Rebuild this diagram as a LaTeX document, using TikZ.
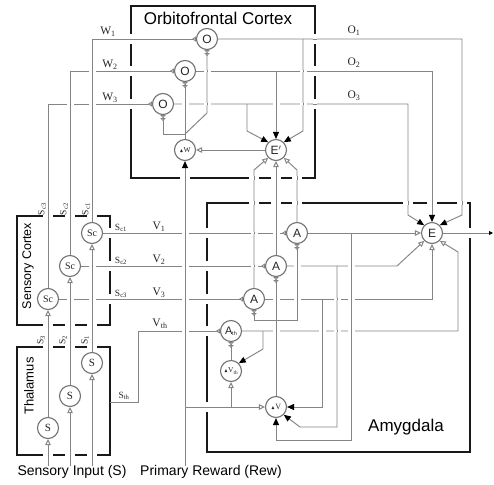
\documentclass[tikz,border=0pt]{standalone}
\usepackage{fontspec}
\usepackage{amssymb}
\setmainfont{Liberation Serif}
\setsansfont{Liberation Sans}
\usetikzlibrary{arrows.meta}
\tikzset{
  ln/.style={draw=black!48, line width=0.95pt},
  boxed/.style={draw=black!90, line width=2pt},
  nrn/.style={circle, draw=black!55, line width=1.1pt, fill=white, minimum size=21pt, inner sep=0pt, text=black!85},
  sfn/.style={nrn, font=\sffamily\fontsize{12}{12}\selectfont},
  rmn/.style={nrn, font=\fontsize{10}{10}\selectfont},
  rmnb/.style={nrn, font=\fontsize{11}{11}\selectfont},
  lab/.style={font=\fontsize{11.5}{11.5}\selectfont, text=black!85, inner sep=0pt},
  slab/.style={font=\fontsize{9.5}{9.5}\selectfont, text=black!85, inner sep=0pt},
  ttl/.style={font=\sffamily\fontsize{17}{17}\selectfont, text=black, inner sep=0pt},
  opn/.style={-{Triangle[open,length=6pt,width=5.5pt]}},
  blk/.style={-{Triangle[length=7pt,width=6pt,color=black,fill=black]}},
  rev/.style={-{Triangle[open,reversed,length=4pt,width=5pt]}},
  drev/.style={-{Triangle[open,reversed,length=3pt,width=5.5pt]Triangle[open,reversed,length=3pt,width=5.5pt]}},
}
\newcommand\hop[2]{\fill[white] ({#1-3.5},{#2-1.2}) rectangle ({#1+3.5},{#2+1.2}); \draw[ln] (#1,{#2-1.3}) -- (#1,{#2+1.3});}
\newcommand\bgv[2]{\fill[white] ({#1-1.6},{#2-5}) rectangle ({#1+1.6},{#2+5}); \draw[ln] ({#1-1.7},#2) -- ({#1+1.7},#2);}
\newcommand\bgh[2]{\fill[white] ({#1-5},{#2-1.6}) rectangle ({#1+5},{#2+1.6}); \draw[ln] (#1,{#2-1.7}) -- (#1,{#2+1.7});}
\newcommand\tri{{\fontsize{5}{5}\selectfont$\blacktriangle$}}
\begin{document}
\begin{tikzpicture}[x=1pt,y=-1pt]
\useasboundingbox[fill=white] (0,0) rectangle (494,484);
% boxes
\draw[boxed] (131,6) rectangle (315,178);
\draw[boxed] (17,216) rectangle (110,325);
\draw[boxed] (17,347) rectangle (110,455);
\draw[boxed] (207,203) rectangle (470,452);
% titles
\node[ttl] (tofc) at (218,18) {Orbitofrontal Cortex};
\node[ttl,rotate=90,font=\sffamily\fontsize{12.5}{12.5}\selectfont] (tsc) at (28,266) {Sensory Cortex};
\node[ttl,rotate=90,font=\sffamily\fontsize{13}{13}\selectfont] (tth) at (29,386) {Thalamus};
\node[ttl] (tamy) at (406,427) {Amygdala};
\node[ttl,font=\sffamily\fontsize{14}{14}\selectfont] (tin) at (72,472) {Sensory Input (S)};
\node[ttl,font=\sffamily\fontsize{14}{14}\selectfont] (trew) at (211,472) {Primary Reward (Rew)};
% nodes
\node[sfn] (O1) at (207,39) {O};
\node[sfn] (O2) at (185,71) {O};
\node[sfn] (O3) at (163,104) {O};
\node[nrn] (dW) at (185,150) {\tri{\fontsize{7.5}{7.5}\selectfont W}};
\node[sfn] (Ep) at (276,150) {E$'$};
\node[sfn] (E) at (432,233) {E};
\node[sfn] (A1) at (297,233) {A};
\node[sfn] (A2) at (276,266) {A};
\node[sfn] (A3) at (254,299) {A};
\node[sfn,font=\sffamily\fontsize{11}{11}\selectfont] (Ath) at (231,331) {A\kern-0.3pt\raisebox{-1.5pt}{\fontsize{5.5}{5.5}\selectfont th}};
\node[nrn] (dVth) at (231,371) {\tri{\fontsize{7.5}{7.5}\selectfont V\textsubscript{th}}};
\node[nrn] (dV) at (276,407) {\tri{\fontsize{8}{8}\selectfont V}};
\node[rmn] (Sc1) at (92,233) {Sc};
\node[rmn] (Sc2) at (70,266) {Sc};
\node[rmn] (Sc3) at (48,299) {Sc};
\node[rmnb] (S1) at (92,363) {S};
\node[rmnb] (S2) at (70,396) {S};
\node[rmnb] (S3) at (48,428) {S};
% free ends
\coordinate (in1) at (92,466);
\coordinate (in2) at (70,466);
\coordinate (in3) at (48,466);
\coordinate (rew) at (185,466);
\coordinate (thout) at (110,402);
\coordinate (eout) at (493,233);
% sensory inputs
\draw[ln,opn] (in1) -- (S1.south);
\draw[ln,opn] (in2) -- (S2.south);
\draw[ln,opn] (in3) -- (S3.south);
\draw[ln,opn] (S1.north) -- (Sc1.south);
\draw[ln,opn] (S2.north) -- (Sc2.south);
\draw[ln,opn] (S3.north) -- (Sc3.south);
% W lines
\draw[ln,rev] (Sc1.north) |- (O1.west);
\draw[ln,rev] (Sc2.north) |- (O2.west);
\draw[ln,rev] (Sc3.north) |- (O3.west);
% V lines
\draw[ln,rev] (Sc1.east) -- (A1.west);
\draw[ln,rev] (Sc2.east) -- (A2.west);
\draw[ln,rev] (Sc3.east) -- (A3.west);
\draw[ln,rev] (thout) -- (138,402) |- (Ath.west);
% O outputs
\draw[ln,blk] (O1.east) -- (462,39) -- (462,215) -- (E.north east);
\draw[ln,blk] (O2.east) -| (E.north);
\draw[ln,blk] (O3.east) -- (408,104) -- (408,215) -- (E.north west);
\draw[ln,blk] (303,39) -- (303,131) -- (Ep.north east);
\draw[ln,blk] (276,71) -- (Ep.north);
\draw[ln,blk] (247,104) -- (247,131) -- (Ep.north west);
% E' and dW
\draw[ln,opn] (Ep.west) -- (dW.east);
\draw[ln,blk] (rew) -- (dW.south);
\draw[ln,drev] (dW.north) -- (O2.south);
\draw[ln,drev] (185,134) -- (207,113) -- (O1.south);
\draw[ln,drev] (185,134) -- (163,134) -- (O3.south);
% reward branches
\draw[ln,opn] (185,407) -- (dV.west);
\draw[ln,opn] (231,407) -- (dVth.south);
% A up to E'
\draw[ln,opn] (A1.north) -- (297,170) -- (Ep.south east);
\draw[ln,opn] (A2.north) -- (Ep.south);
\draw[ln,opn] (A3.north) -- (254,170) -- (Ep.south west);
% A to E
\draw[ln,opn] (A1.east) -- (E.west);
\draw[ln,opn] (A2.east) -- (397,266) -- (E.south west);
\draw[ln,opn] (A3.east) -| (E.south);
\draw[ln,opn] (Ath.east) -- (458,331) -- (458,252) -- (E.south east);
\draw[ln,-{Triangle[length=4pt,width=4pt,color=black,fill=black]}] (E.east) -- (eout);
% A to dV
\draw[ln,blk] (351,233) -- (351,440) -| (dV.south);
\draw[ln,blk] (337,266) -- (337,427) -- (300,427) -- (dV.south east);
\draw[ln,blk] (322,299) |- (dV.east);
% dV to A
\draw[ln,drev] (dV.north) -- (A2.south);
\draw[ln,drev] (276,320) -- (254,320) -- (A3.south);
\draw[ln,drev] (276,320) -- (297,320) -- (A1.south);
% Ath
\draw[ln,drev] (dVth.north) -- (Ath.south);
\draw[ln,blk] (263,331) -- (263,349) -- (dVth.north east);
% crossings
\hop{92}{71} \hop{70}{104} \hop{92}{104}
\hop{207}{71} \hop{303}{71}
\hop{185}{104} \hop{207}{104} \hop{276}{104} \hop{303}{104}
\hop{185}{233} \hop{254}{233} \hop{276}{233}
\hop{92}{266} \hop{185}{266} \hop{254}{266}
\hop{70}{299} \hop{92}{299} \hop{185}{299}
\hop{185}{331}
\hop{297}{266} \hop{351}{266}
\hop{276}{299} \hop{297}{299} \hop{337}{299} \hop{351}{299}
\hop{276}{331} \hop{322}{331} \hop{337}{331} \hop{351}{331}
% border gaps
\bgv{131}{39} \bgv{131}{71} \bgv{131}{104}
\bgv{315}{39} \bgv{315}{71} \bgv{315}{104}
\bgv{110}{233} \bgv{110}{266} \bgv{110}{299}
\bgv{207}{233} \bgv{207}{266} \bgv{207}{299} \bgv{207}{331} \bgv{207}{407}
\bgv{470}{233}
\bgh{185}{178} \bgh{254}{178} \bgh{276}{178} \bgh{297}{178}
\bgh{48}{216} \bgh{70}{216} \bgh{92}{216}
\bgh{48}{325} \bgh{70}{325} \bgh{92}{325}
\bgh{48}{347} \bgh{70}{347} \bgh{92}{347}
\bgh{48}{455} \bgh{70}{455} \bgh{92}{455}
\bgh{254}{203} \bgh{276}{203} \bgh{297}{203} \bgh{408}{203} \bgh{432}{203} \bgh{462}{203}
% labels
\node[lab] (lw1) at (108,32) {W\textsubscript{1}};
\node[lab] (lw2) at (110,65) {W\textsubscript{2}};
\node[lab] (lw3) at (110,98) {W\textsubscript{3}};
\node[lab] (lo1) at (354,31) {O\textsubscript{1}};
\node[lab] (lo2) at (354,63) {O\textsubscript{2}};
\node[lab] (lo3) at (354,96) {O\textsubscript{3}};
\node[slab] (ls1) at (121,228) {S\textsubscript{c1}};
\node[slab] (ls2) at (121,261) {S\textsubscript{c2}};
\node[slab] (ls3) at (121,294) {S\textsubscript{c3}};
\node[lab] (lv1) at (159,227) {V\textsubscript{1}};
\node[lab] (lv2) at (159,260) {V\textsubscript{2}};
\node[lab] (lv3) at (159,293) {V\textsubscript{3}};
\node[lab] (lvth) at (160,324) {V\textsubscript{th}};
\node[slab] (lsth) at (124,396) {S\textsubscript{th}};
\node[slab,rotate=90] (rs3) at (42,209) {S\textsubscript{c3}};
\node[slab,rotate=90] (rs2) at (64,209) {S\textsubscript{c2}};
\node[slab,rotate=90] (rs1) at (86,209) {S\textsubscript{c1}};
\node[slab,rotate=90] (rt3) at (41,340) {S\textsubscript{3}};
\node[slab,rotate=90] (rt2) at (63,340) {S\textsubscript{2}};
\node[slab,rotate=90] (rt1) at (85,340) {S\textsubscript{1}};
\end{tikzpicture}
\end{document}
